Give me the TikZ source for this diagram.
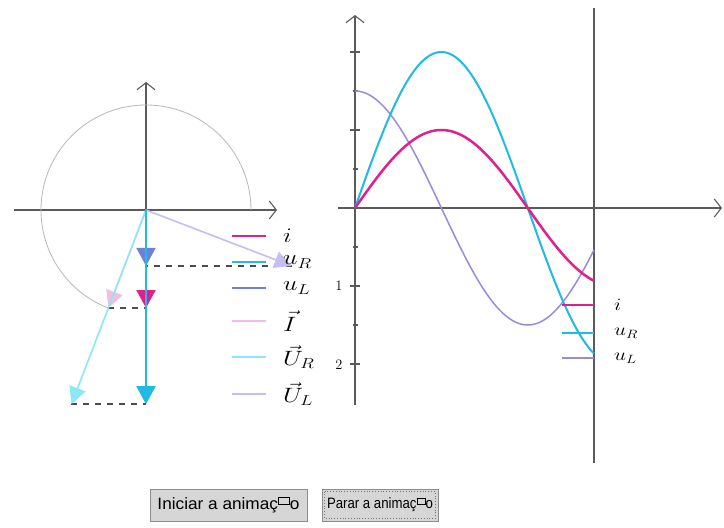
\documentclass[tikz,border=0pt]{standalone}
\usepackage{fontspec}
\newfontfamily\btnfont{Liberation Sans}
\usetikzlibrary{arrows.meta,calc}
\definecolor{ci}{HTML}{E0208F}
\definecolor{cur}{HTML}{1FBBE3}
\definecolor{cul}{HTML}{6F80D9}
\definecolor{culg}{HTML}{9A8ADB}
\definecolor{cI}{HTML}{F4BCE0}
\definecolor{cUR}{HTML}{8CE8F4}
\definecolor{cUL}{HTML}{C6BEF0}
\definecolor{axis}{HTML}{5A5A5A}
\definecolor{btnfill}{HTML}{D6D6D6}
\newcommand{\missingglyph}{\raisebox{3pt}{\setlength{\fboxsep}{0pt}\setlength{\fboxrule}{0.7pt}\fbox{\rule{0pt}{3.6pt}\hspace{5.5pt}}}}
\newcommand{\widelab}[1]{\scalebox{1.25}[1]{#1}}
\begin{document}
\begin{tikzpicture}[x=1pt,y=1pt,
  axisline/.style={draw=axis,line width=1.1pt,-{Straight Barb[length=7pt,width=18pt]}},
  plainaxis/.style={draw=axis,line width=1.1pt},
  circ/.style={draw=black!28,line width=0.8pt},
  proj/.style={line width=2pt,-{Triangle[width=19pt,length=18pt]}},
  phasor/.style={line width=1.6pt,-{Triangle[width=17pt,length=17pt]}},
  dashline/.style={draw=black!70,line width=1.5pt,dash pattern=on 6pt off 6pt},
  legline/.style={line width=2.4pt},
  leglab/.style={anchor=west,inner sep=0pt,font=\huge},
  rleglab/.style={anchor=west,inner sep=0pt,font=\LARGE},
  tick/.style={draw=axis,line width=1.4pt},
  ticklab/.style={font=\Large,inner sep=0pt},
  btn/.style={fill=btnfill,draw=black!45,line width=0.8pt,inner sep=0pt},
]
\useasboundingbox (0,0) rectangle (724,-528);
\fill[white] (0,0) rectangle (724,-528);

% ---------- phasor diagram ----------
\coordinate (O) at (146,-210);
\coordinate (Otop) at (146,-82);
\coordinate (Oleft) at (14,-210);
\coordinate (Oright) at (277,-210);
\draw[axisline] (O) -- (Otop);
\draw[axisline] (Oleft) -- (Oright);
\draw[circ] (O) ++(0:105) arc[start angle=0,end angle=249,radius=105];

\coordinate (Iend) at ($(O)+(249:105)$);
\coordinate (URend) at ($(O)+(249:208)$);
\coordinate (ULend) at ($(O)+(339:156)$);
\coordinate (pI) at (O |- Iend);
\coordinate (pUR) at (O |- URend);
\coordinate (pUL) at (O |- ULend);

\draw[dashline] (ULend) -- (pUL);
\draw[dashline] (Iend) -- (pI);
\draw[dashline] (URend) -- (pUR);

\draw[phasor,draw=cI,fill=cI] (O) -- (Iend);
\draw[phasor,draw=cUR,fill=cUR] (O) -- (URend);
\draw[phasor,draw=cUL,fill=cUL] (O) -- (ULend);

\draw[proj,draw=cul,fill=cul!80!cur] (O) -- (pUL);
\draw[proj,draw=ci,fill=ci] (O) -- (pI);
\draw[proj,draw=cur,fill=cur] (O) -- (pUR);

% left legend
\foreach \yy/\col/\lab/\nm in {236/ci/{$i$}/li, 262/cur/{$u_R$}/lur, 288/cul/{$u_L$}/lul, 321/cI/{$\vec{I}$}/lI, 357/cUR/{$\vec{U}_R$}/lUR, 394/cUL/{$\vec{U}_L$}/lUL}{
  \coordinate (\nm a) at (232,-\yy);
  \coordinate (\nm b) at (266,-\yy);
  \draw[legline,draw=\col] (\nm a) -- (\nm b);
  \node[leglab] (\nm) at (283,-\yy) {\widelab{\lab}};
}

% ---------- time graph ----------
\coordinate (G) at (355,-208);
\coordinate (Gtop) at (355,-15);
\coordinate (Gbot) at (355,-405);
\coordinate (Gleft) at (338,-208);
\coordinate (Gright) at (722,-208);
\coordinate (Ttop) at (594,-8);
\coordinate (Tbot) at (594,-463);
\draw[plainaxis] (G) -- (Gbot);
\draw[axisline] (G) -- (Gtop);
\draw[axisline] (Gleft) -- (Gright);
\draw[plainaxis] (Ttop) -- (Tbot);

\foreach \yy in {52,130,286,364}{\draw[tick] (350,-\yy) -- (360,-\yy);}
\foreach \yy in {91,169,247,325}{\draw[tick] (352.5,-\yy) -- (357.5,-\yy);}
\node[ticklab] (t1) at (339,-286) {1};
\node[ticklab] (t2) at (339,-365) {2};

\draw[culg,line width=1.5pt] plot[domain=0:249,samples=120,smooth] ({355+\x*0.95984},{-208+117*cos(\x)});
\draw[cur,line width=2pt] plot[domain=0:249,samples=120,smooth] ({355+\x*0.95984},{-208+156*sin(\x)});
\draw[ci,line width=2.5pt] plot[domain=0:249,samples=120,smooth] ({355+\x*0.95984},{-208+78*sin(\x)});

% right legend
\foreach \yy/\col/\lab/\nm in {305/ci/{$i$}/ri, 333/cur/{$u_R$}/rur, 358/culg/{$u_L$}/rul}{
  \coordinate (\nm a) at (562,-\yy);
  \coordinate (\nm b) at (594,-\yy);
  \draw[legline,draw=\col] (\nm a) -- (\nm b);
  \node[rleglab] (\nm) at (614,-\yy) {\widelab{\lab}};
}

% ---------- buttons ----------
\node[btn,minimum width=157pt,minimum height=32pt] (b1) at (228.5,-505) {};
\node[inner sep=0pt] (b1t) at (b1.center) {\resizebox{142pt}{12pt}{\btnfont Iniciar a animaç\missingglyph o}};
\node[btn,minimum width=116pt,minimum height=32pt] (b2) at (380,-505) {};
\draw[black!55,line width=0.8pt,dotted] ([shift={(3,-3)}]b2.north west) rectangle ([shift={(-3,3)}]b2.south east);
\node[inner sep=0pt] (b2t) at (b2.center) {\resizebox{106pt}{11pt}{\btnfont Parar a animaç\missingglyph o}};
\end{tikzpicture}
\end{document}
